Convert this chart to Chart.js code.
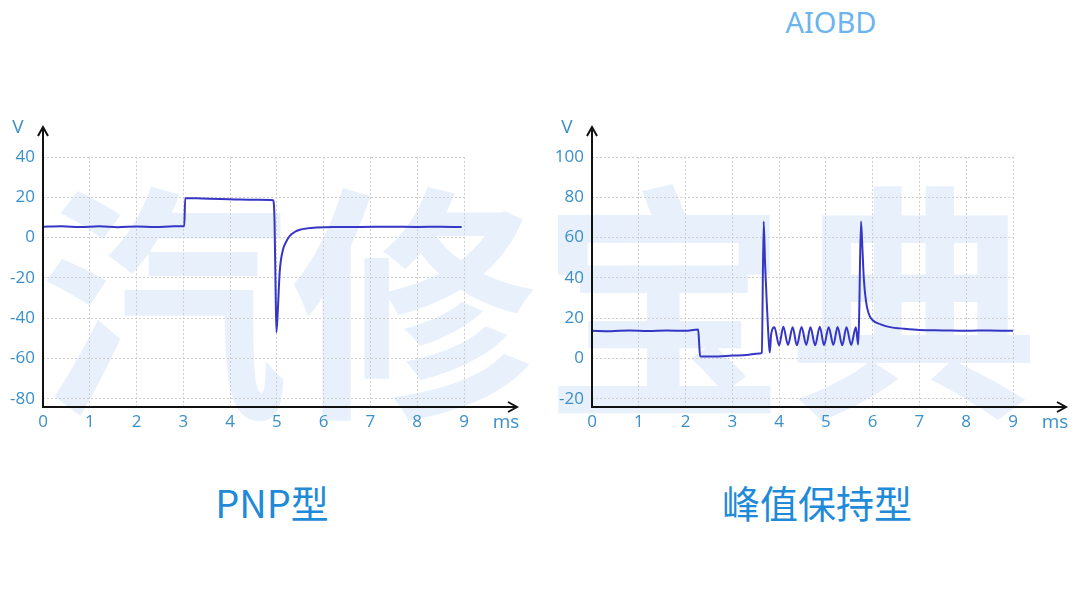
<!DOCTYPE html>
<html>
<head>
<meta charset="utf-8">
<script src="https://cdn.jsdelivr.net/npm/chart.js@4"></script>
<style>
  html, body { margin: 0; padding: 0; background: #fff; overflow: hidden; }
  body { width: 1080px; height: 608px; position: relative; }
  .mark { position: absolute; left: 40px; top: 160px; width: 1000px; height: 260px;
          font-family: "Noto Sans CJK SC"; font-weight: 700; font-size: 248px; line-height: 260px;
          color: #e8f1fb; letter-spacing: 2px; white-space: nowrap; text-align: center; }
  canvas { position: absolute; top: 110px; }
  .title { position: absolute; top: 479px; font-family: "Noto Sans CJK SC"; font-weight: 400; font-size: 38px;
           color: #1e8ad8; line-height: 46px; text-align: center; width: 400px; }
  .brand { position: absolute; left: 731px; top: 3px; width: 200px; text-align: center;
           font-family: "Noto Sans"; font-size: 29px; color: #6cb4ee; line-height: 38px; }
</style>
</head>
<body>
<div class="mark">汽修宝典</div>
<div class="brand">AIOBD</div>
<canvas id="pnp" width="540" height="330" style="left:0px"></canvas>
<canvas id="hold" width="531" height="330" style="left:549px"></canvas>
<div class="title" style="left:72px">PNP型</div>
<div class="title" style="left:617px">峰值保持型</div>
<script>
// PNP型 waveform (ms, V)
const pnpTime = [0, 0.4, 0.8, 1.2, 1.6, 2.0, 2.4, 2.8, 3.02, 3.04, 3.4, 3.8, 4.2, 4.6, 4.92, 4.95, 4.97, 4.99, 5.02, 5.06, 5.13, 5.2, 5.28, 5.38, 5.49, 5.65, 5.85, 6.2, 6.8, 7.4, 8.0, 8.5, 8.95];
const pnpVolt = [5.4, 5.6, 5.3, 5.6, 5.2, 5.5, 5.3, 5.6, 5.6, 19.6, 19.4, 19.2, 18.9, 18.8, 18.6, 8, -22, -47, -36, -17, -6, -2, 1, 2.8, 3.9, 4.6, 5.0, 5.3, 5.3, 5.4, 5.3, 5.4, 5.3];

// 峰值保持型 waveform (ms, V)
const holdTime = [0, 0.4, 0.8, 1.2, 1.6, 2.0, 2.2, 2.27, 2.29, 2.31, 2.6, 3.0, 3.3, 3.58, 3.63, 3.67, 3.70, 3.74, 3.78, 3.80, 3.83,
  3.90, 4.00, 4.09, 4.19, 4.29, 4.38, 4.48, 4.58, 4.67, 4.77, 4.87, 4.96, 5.06, 5.16, 5.25, 5.35, 5.44, 5.54, 5.64,
  5.69, 5.71, 5.75, 5.78, 5.81, 5.86, 5.92, 6.0, 6.17, 6.4, 6.6, 7.0, 7.5, 8.0, 8.5, 9.0];
const holdVolt = [13.8, 13.6, 14.0, 13.7, 13.9, 13.8, 14.3, 14.4, 8, 1.2, 1.0, 1.5, 1.8, 2.5, 3, 68, 47, 26, 8, 3, 12,
  15.5, 6.5, 15.8, 6.8, 15.6, 6.6, 15.7, 6.8, 15.5, 6.6, 15.8, 6.7, 15.6, 6.8, 15.7, 6.6, 15.5, 6.8, 15.6,
  7, 20, 68, 55, 40, 28, 22, 19, 17, 15.5, 15, 14.2, 14, 13.8, 14, 13.8];

const xTicks = [0, 1, 2, 3, 4, 5, 6, 7, 8, 9];
const pnpTicks = [-80, -60, -40, -20, 0, 20, 40];
const holdTicks = [-20, 0, 20, 40, 60, 80, 100];

const tickColor = '#3a8fca';
const tickFont = { family: 'Open Sans', size: 17 };

const axisArrows = {
  id: 'axisArrows',
  afterDraw(chart) {
    const ctx = chart.ctx;
    const a = chart.chartArea;
    const xTip = a.right + 53;
    const yTip = a.top - 30;
    ctx.save();
    ctx.strokeStyle = '#111';
    ctx.lineWidth = 2;
    ctx.beginPath();
    ctx.moveTo(a.left, a.bottom);
    ctx.lineTo(xTip, a.bottom);
    ctx.moveTo(xTip - 9, a.bottom - 5);
    ctx.lineTo(xTip, a.bottom);
    ctx.lineTo(xTip - 9, a.bottom + 5);
    ctx.moveTo(a.left, a.bottom + 1);
    ctx.lineTo(a.left, yTip);
    ctx.moveTo(a.left - 5, yTip + 9);
    ctx.lineTo(a.left, yTip);
    ctx.lineTo(a.left + 5, yTip + 9);
    ctx.stroke();
    ctx.fillStyle = tickColor;
    ctx.font = '19px "Open Sans"';
    ctx.textAlign = 'center';
    ctx.textBaseline = 'middle';
    ctx.fillText('V', a.left - 25, yTip + 1);
    ctx.fillText('ms', a.right + 42, a.bottom + 16);
    ctx.restore();
  }
};

function makeChart(id, xs, ys, yMin, yMax, yTicks, padRight) {
  const pts = xs.map((x, i) => ({ x: x, y: ys[i] }));
  return new Chart(document.getElementById(id), {
    type: 'line',
    data: {
      datasets: [{
        data: pts,
        borderColor: '#3535c6',
        borderWidth: 2,
        pointRadius: 0,
        cubicInterpolationMode: 'monotone',
        fill: false
      }]
    },
    options: {
      responsive: false,
      animation: false,
      devicePixelRatio: 1,
      layout: { padding: { top: 47, right: padRight, left: 0, bottom: 0 } },
      plugins: { legend: { display: false }, tooltip: { enabled: false } },
      scales: {
        x: {
          type: 'linear', min: 0, max: 9,
          afterBuildTicks: s => { s.ticks = xTicks.map(v => ({ value: v })); },
          afterFit: s => { s.height = 33; },
          ticks: { color: tickColor, font: tickFont, padding: 5, maxRotation: 0 },
          grid: { color: '#cfcfcf', lineWidth: 1, drawTicks: false },
          border: { display: false, dash: [2, 2] }
        },
        y: {
          type: 'linear', min: yMin, max: yMax,
          afterBuildTicks: s => { s.ticks = yTicks.map(v => ({ value: v })); },
          afterFit: s => { s.width = 43; },
          ticks: { color: tickColor, font: tickFont, padding: 8 },
          grid: { color: '#cfcfcf', lineWidth: 1, drawTicks: false },
          border: { display: false, dash: [2, 2] }
        }
      }
    },
    plugins: [axisArrows]
  });
}

makeChart('pnp', pnpTime, pnpVolt, -84, 40, pnpTicks, 76);
makeChart('hold', holdTime, holdVolt, -24, 100, holdTicks, 67);
</script>
</body>
</html>
